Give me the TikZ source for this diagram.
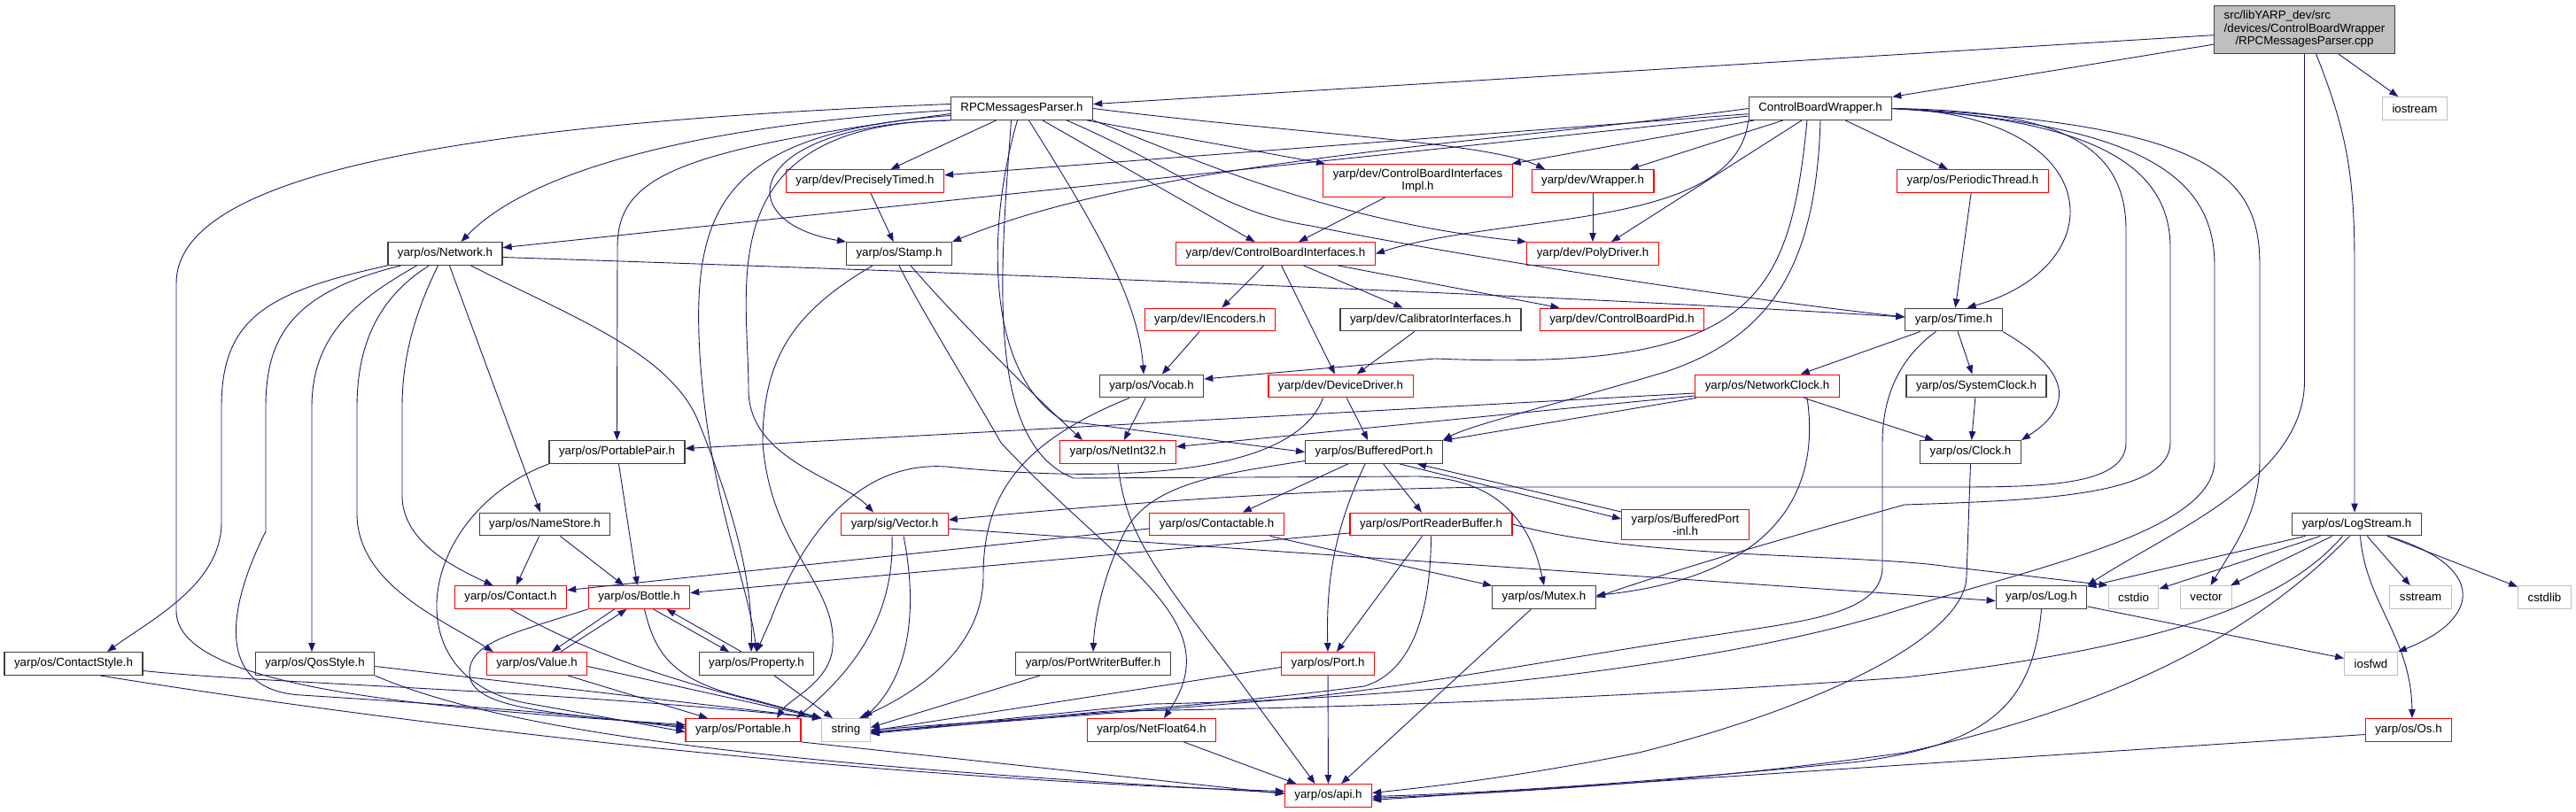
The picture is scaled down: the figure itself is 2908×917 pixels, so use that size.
\documentclass[tikz,border=0pt]{standalone}
\usepackage{fontspec}
\setmainfont{Liberation Sans}
\usetikzlibrary{arrows.meta}

\definecolor{edgeblue}{HTML}{191970}
\definecolor{boxgray}{HTML}{404040}
\definecolor{sysgray}{HTML}{BFBFBF}

\begin{document}
\begin{tikzpicture}[x=1pt,y=-1pt,
    incfile/.style={draw=boxgray,rectangle,line width=1.2pt,inner xsep=11pt,inner ysep=5pt,
      minimum height=25.7pt,align=center,font=\fontsize{13.3}{14.5}\selectfont},
    redfile/.style={incfile,draw=red},
    sysfile/.style={incfile,draw=sysgray},
    rootfile/.style={incfile,fill=sysgray},
    inc/.style={draw=edgeblue,line width=0.9pt,-{Triangle[length=10pt,width=7.5pt]}}]
\useasboundingbox (0,0) rectangle (2908,917);

% Nodes
\node[rootfile] (root) at (2601.5,33.5) {\begin{tabular}{@{}l@{}}src/libYARP\_dev/src\\/devices/ControlBoardWrapper\\\multicolumn{1}{@{}c@{}}{/RPCMessagesParser.cpp}\end{tabular}};
\node[sysfile] (iostream) at (2726,122.5) {iostream};
\node[incfile] (rpc) at (1153.5,122.5) {RPCMessagesParser.h};
\node[incfile] (cbw) at (2055,122.5) {ControlBoardWrapper.h};
\node[redfile] (precisely) at (976.5,204.5) {yarp/dev/PreciselyTimed.h};
\node[redfile] (cbiimpl) at (1600.5,204) {yarp/dev/ControlBoardInterfaces\\Impl.h};
\node[redfile] (wrapper) at (1798,204.5) {yarp/dev/Wrapper.h};
\node[redfile] (periodic) at (2227,204.5) {yarp/os/PeriodicThread.h};
\node[incfile] (network) at (502.5,286.5) {yarp/os/Network.h};
\node[incfile] (stamp) at (1015,286.5) {yarp/os/Stamp.h};
\node[redfile] (cbi) at (1440,286.5) {yarp/dev/ControlBoardInterfaces.h};
\node[redfile] (polydriver) at (1798,286.5) {yarp/dev/PolyDriver.h};
\node[redfile] (iencoders) at (1366,361) {yarp/dev/IEncoders.h};
\node[incfile] (calibrator) at (1615,361) {yarp/dev/CalibratorInterfaces.h};
\node[redfile] (cbpid) at (1831,361) {yarp/dev/ControlBoardPid.h};
\node[incfile] (time) at (2205.5,361) {yarp/os/Time.h};
\node[incfile] (vocab) at (1300,436) {yarp/os/Vocab.h};
\node[redfile] (devicedriver) at (1513.5,436) {yarp/dev/DeviceDriver.h};
\node[redfile] (netclock) at (1995,436) {yarp/os/NetworkClock.h};
\node[incfile] (sysclock) at (2231,436) {yarp/os/SystemClock.h};
\node[incfile] (portablepair) at (696.5,510.5) {yarp/os/PortablePair.h};
\node[redfile] (netint32) at (1262,510.5) {yarp/os/NetInt32.h};
\node[incfile] (bufport) at (1551,510.5) {yarp/os/BufferedPort.h};
\node[incfile] (clock) at (2224.5,510.5) {yarp/os/Clock.h};
\node[incfile] (namestore) at (615,592) {yarp/os/NameStore.h};
\node[redfile] (vector) at (1010,592) {yarp/sig/Vector.h};
\node[redfile] (contactable) at (1373.5,592) {yarp/os/Contactable.h};
\node[redfile] (readerbuf) at (1615.5,592) {yarp/os/PortReaderBuffer.h};
\node[redfile] (bufportinl) at (1902.5,592.5) {yarp/os/BufferedPort\\-inl.h};
\node[incfile] (logstream) at (2660.5,592) {yarp/os/LogStream.h};
\node[redfile] (contact) at (576.5,674.5) {yarp/os/Contact.h};
\node[redfile] (bottle) at (721.5,674.5) {yarp/os/Bottle.h};
\node[incfile] (mutex) at (1743,674.5) {yarp/os/Mutex.h};
\node[incfile] (log) at (2304.5,674.5) {yarp/os/Log.h};
\node[sysfile] (cstdio) at (2408.5,674.5) {cstdio};
\node[sysfile] (stdvector) at (2490.5,674.5) {vector};
\node[sysfile] (sstream) at (2732.5,674.5) {sstream};
\node[sysfile] (cstdlib) at (2872.5,674.5) {cstdlib};
\node[incfile] (contactstyle) at (83,749.5) {yarp/os/ContactStyle.h};
\node[incfile] (qosstyle) at (355.5,749.5) {yarp/os/QosStyle.h};
\node[redfile] (value) at (606,749.5) {yarp/os/Value.h};
\node[incfile] (property) at (854,749.5) {yarp/os/Property.h};
\node[incfile] (writerbuf) at (1234,749.5) {yarp/os/PortWriterBuffer.h};
\node[redfile] (port) at (1499,749.5) {yarp/os/Port.h};
\node[sysfile] (iosfwd) at (2676.5,749.5) {iosfwd};
\node[redfile] (portable) at (839,824.5) {yarp/os/Portable.h};
\node[sysfile] (string) at (955,824.5) {string};
\node[redfile] (netfloat64) at (1300,824.5) {yarp/os/NetFloat64.h};
\node[redfile] (os) at (2719,824.5) {yarp/os/Os.h};
\node[redfile] (api) at (1499.5,898.5) {yarp/os/api.h};

% Edges
\draw[inc] (root) -- (rpc);
\draw[inc] (root) -- (cbw);
\draw[inc] (root) -- (iostream);
\draw[inc] (root.south) -- (2601.5,430) .. controls (2601.5,540) and (2450,600) .. (log.north east);
\draw[inc] ([xshift=13pt]root.south) .. controls (2650,150) and (2658,200) .. (2658,300) -- ([xshift=-2.5pt]logstream.north);

\draw[inc] (rpc) -- (precisely);
\draw[inc] (rpc.south west) .. controls (840,140) and (820,250) .. (stamp.north west);
\draw[inc] ([yshift=-2pt]rpc.west) .. controls (800,140) and (600,190) .. ([xshift=18pt]network.north);
\draw[inc] ([yshift=-6pt]rpc.west) .. controls (760,170) and (697,200) .. (697,280) -- (portablepair.north);
\draw[inc] ([yshift=5pt]rpc.west) .. controls (500,140) and (199,200) .. (199,320) -- (199,690) .. controls (199,780) and (500,800) .. ([yshift=6pt]portable.west);
\draw[inc] ([yshift=-8pt]rpc.west) .. controls (820,150) and (780,230) .. (790,400) .. controls (800,560) and (845,660) .. (property.north);
\draw[inc] (rpc.south west) .. controls (800,140) and (845,320) .. (845,440) .. controls (845,520) and (950,540) .. ([xshift=-24pt]vector.north);
\draw[inc] (rpc) -- (cbiimpl);
\draw[inc] (rpc.east) .. controls (1450,150) and (1680,160) .. ([xshift=-54pt]wrapper.north);
\draw[inc] (rpc) -- (cbi);
\draw[inc] (rpc.south east) .. controls (1350,180) and (1500,250) .. (polydriver.north west);
\draw[inc] ([xshift=-30pt]rpc.south east) .. controls (1330,190) and (1380,240) .. (1480,255) .. controls (1600,280) and (1900,330) .. ([yshift=3pt]time.west);
\draw[inc] ([xshift=8pt]rpc.south) .. controls (1220,230) and (1285,330) .. ([xshift=-9pt]vocab.north);
\draw[inc] ([xshift=-5pt]rpc.south) .. controls (1115,250) and (1110,420) .. (1200,475) -- (bufport.west);
\draw[inc] ([xshift=-12pt]rpc.south) .. controls (1130,300) and (1110,500) .. (1212,540) -- (1600,538) .. controls (1700,540) and (1730,600) .. (mutex.north);

\draw[inc] (cbw) -- (precisely);
\draw[inc] (cbw) -- (cbiimpl);
\draw[inc] (cbw) -- (wrapper);
\draw[inc] (cbw) -- (periodic);
\draw[inc] (cbw) -- (network);
\draw[inc] (cbw.west) .. controls (1700,160) and (1300,180) .. (stamp.north east);
\draw[inc] (cbw.south west) .. controls (1960,260) and (1700,240) .. (cbi.east);
\draw[inc] (cbw) -- (polydriver);
\draw[inc] (cbw.east) .. controls (2380,130) and (2390,300) .. ([xshift=15pt]time.north);
\draw[inc] ([xshift=-15pt]cbw.south) .. controls (2020,340) and (1980,420) .. (1620,405) -- ([yshift=8pt]vocab.east);
\draw[inc] (cbw.south) .. controls (2050,300) and (2000,380) .. (1880,420) .. controls (1780,450) and (1660,480) .. (bufport.north east);
\draw[inc] (cbw.east) .. controls (2320,125) and (2400,160) .. (2400,260) -- (2400,500) .. controls (2400,550) and (2300,550) .. (2200,550) -- (1690,550) .. controls (1500,552) and (1300,565) .. ([yshift=5pt]vector.east);
\draw[inc] (cbw.east) .. controls (2350,135) and (2450,180) .. (2450,280) -- (2450,500) .. controls (2450,560) and (2300,565) .. (2150,570) .. controls (2060,595) and (1900,640) .. (mutex.east);
\draw[inc] (cbw.east) .. controls (2420,140) and (2500,200) .. (2500,300) -- (2500,520) .. controls (2500,600) and (2300,640) .. (2140,690) .. controls (1950,750) and (1600,790) .. (1300,795) -- ([yshift=-3pt]string.east);
\draw[inc] (cbw.east) .. controls (2500,140) and (2551,200) .. (2551,300) -- (2551,520) .. controls (2551,580) and (2520,620) .. ([xshift=5pt]stdvector.north);

\draw[inc] ([yshift=-4pt]network.east) .. controls (1000,305) and (1700,330) .. ([yshift=3pt]time.west);
\draw[inc] (network.south west) .. controls (300,330) and (250,360) .. (250,460) -- (250,590) .. controls (250,660) and (170,700) .. ([xshift=38pt]contactstyle.north);
\draw[inc] ([xshift=-50pt]network.south) .. controls (330,330) and (300,380) .. (300,460) -- (300,600) .. controls (250,700) and (250,780) .. (340,785) .. controls (450,792) and (650,805) .. ([yshift=2pt]portable.west);
\draw[inc] ([xshift=-32pt]network.south) .. controls (400,340) and (352,380) .. (352,460) -- ([xshift=-3.5pt]qosstyle.north);
\draw[inc] ([xshift=-18pt]network.south) .. controls (420,340) and (403,400) .. (403,460) -- (403,580) .. controls (403,660) and (500,700) .. ([xshift=8pt]value.north west);
\draw[inc] ([xshift=-8pt]network.south) .. controls (470,350) and (454,400) .. (454,460) -- (454,560) .. controls (454,610) and (510,640) .. ([xshift=-20pt]contact.north);
\draw[inc] (network) -- (namestore);
\draw[inc] ([xshift=29pt]network.south) .. controls (650,360) and (760,400) .. (790,480) .. controls (830,580) and (850,660) .. ([xshift=-6pt]property.north);

\draw[inc] (namestore) -- (contact);
\draw[inc] (namestore) -- (bottle);
\draw[inc] (portablepair) -- (bottle);
\draw[inc] (portablepair.south west) .. controls (470,580) and (440,770) .. (600,795) -- ([yshift=-2pt]portable.west);

\draw[inc] ([xshift=-30pt]stamp.south) .. controls (900,350) and (861,400) .. (861,500) .. controls (870,620) and (945,660) .. (940,730) .. controls (938,770) and (890,790) .. ([xshift=38pt]portable.north);
\draw[inc] ([xshift=13pt]stamp.south) .. controls (1080,360) and (1160,440) .. ([xshift=-40pt]netint32.north);
\draw[inc] (stamp.south) .. controls (1040,350) and (1090,430) .. (1130,500) .. controls (1260,640) and (1390,700) .. ([xshift=14pt]netfloat64.north);

\draw[inc] (precisely) -- (stamp);
\draw[inc] (cbiimpl) -- (cbi);
\draw[inc] (wrapper) -- (polydriver);
\draw[inc] (periodic) -- (time);
\draw[inc] (cbi) -- (iencoders);
\draw[inc] (cbi) -- (calibrator);
\draw[inc] (cbi) -- (cbpid);
\draw[inc] (cbi) -- (devicedriver);
\draw[inc] (iencoders) -- (vocab);
\draw[inc] (calibrator) -- (devicedriver);

\draw[inc] (time) -- (netclock);
\draw[inc] (time) -- (sysclock);
\draw[inc] (time.south east) .. controls (2340,420) and (2340,460) .. (clock.north east);
\draw[inc] ([xshift=-20pt]time.south) .. controls (2150,400) and (2125,440) .. (2125,500) -- (2125,640) .. controls (2125,690) and (2050,700) .. (1950,715) .. controls (1750,745) and (1600,775) .. (1450,790) -- ([yshift=-2pt]string.east);

\draw[inc] (vocab) -- (netint32);
\draw[inc] ([xshift=-25pt]vocab.south) .. controls (1150,500) and (1110,560) .. (1110,650) .. controls (1110,730) and (1040,780) .. ([xshift=15pt]string.north);
\draw[inc] (devicedriver) -- (bufport);
\draw[inc] ([xshift=-20pt]devicedriver.south) .. controls (1460,540) and (1250,545) .. (1068,527) .. controls (960,520) and (900,620) .. (870,700) -- (property.north);

\draw[inc] ([yshift=-8pt]netclock.west) -- ([yshift=4pt]portablepair.east);
\draw[inc] ([yshift=-11pt]netclock.west) -- ([yshift=6pt]netint32.east);
\draw[inc] (netclock) -- (bufport);
\draw[inc] (netclock) -- (clock);
\draw[inc] ([xshift=45pt]netclock.south) .. controls (2055,550) and (2010,650) .. ([yshift=2pt]mutex.east);
\draw[inc] (sysclock) -- (clock);
\draw[inc] (clock.south) -- (2220,650) .. controls (2220,720) and (2050,800) .. (1850,850) .. controls (1700,880) and (1600,890) .. ([yshift=3pt]api.east);

\draw[inc] (bufport) -- (contactable);
\draw[inc] (bufport) -- (readerbuf);
\draw[inc] ([xshift=29pt]bufport.south) -- ([yshift=6.5pt]bufportinl.west);
\draw[inc] ([yshift=14.5pt]bufportinl.west) -- ([xshift=49pt]bufport.south);
\draw[inc] ([xshift=-10pt]bufport.south) .. controls (1505,600) and (1497,660) .. (port.north);
\draw[inc] ([yshift=-10pt]bufport.west) .. controls (1380,535) and (1300,545) .. (1270,600) .. controls (1250,640) and (1236,690) .. (writerbuf.north);

\draw[inc] ([yshift=-5pt]contactable.west) -- ([yshift=8pt]contact.east);
\draw[inc] (contactable) -- (mutex);
\draw[inc] ([yshift=-10pt]readerbuf.west) -- ([yshift=5pt]bottle.east);
\draw[inc] (readerbuf) -- (port);
\draw[inc] (readerbuf.south) .. controls (1615,700) and (1590,760) .. (1540,775) .. controls (1350,800) and (1100,815) .. (string.east);
\draw[inc] (readerbuf.east) .. controls (1850,632) and (2100,625) .. (2200,640) -- (cstdio.north west);

\draw[inc] ([yshift=-5pt]vector.east) -- ([yshift=-4pt]log.west);
\draw[inc] ([xshift=-3pt]vector.south) .. controls (1010,700) and (960,760) .. ([xshift=60pt]portable.north);
\draw[inc] ([xshift=10pt]vector.south) .. controls (1035,680) and (1030,760) .. ([xshift=20pt]string.north);

\draw[inc] (contact.south) .. controls (700,760) and (850,790) .. (string.north west);
\draw[inc] ([xshift=-28pt]bottle.south) -- ([xshift=17pt]value.north);
\draw[inc] ([xshift=16pt]bottle.south) -- ([xshift=-31pt]property.north);
\draw[inc] (bottle.south west) .. controls (580,715) and (530,725) .. (530,760) .. controls (530,800) and (620,805) .. ([yshift=4pt]portable.west);
\draw[inc] ([xshift=6pt]bottle.south) .. controls (740,740) and (760,770) .. (850,790) -- (string.north west);
\draw[inc] ([xshift=27pt]value.north) -- ([xshift=-14pt]bottle.south);
\draw[inc] ([xshift=35pt]value.south) -- ([xshift=-40pt]portable.north);
\draw[inc] ([yshift=-3pt]value.east) -- (string.north west);
\draw[inc] ([xshift=-17pt]property.north) -- ([xshift=31pt]bottle.south);
\draw[inc] ([xshift=20pt]property.south) -- ([xshift=-15pt]string.north);

\draw[inc] ([yshift=-3pt]qosstyle.east) -- (string.north west);
\draw[inc] (qosstyle.south east) .. controls (600,840) and (1000,870) .. ([yshift=3pt]api.west);
\draw[inc] ([yshift=-8pt]contactstyle.east) .. controls (300,772) and (600,778) .. (string.north west);
\draw[inc] ([xshift=30pt]contactstyle.south) .. controls (500,825) and (1000,880) .. ([yshift=5pt]api.west);
\draw[inc] (portable.south east) -- ([yshift=2pt]api.west);
\draw[inc] ([xshift=-60pt]writerbuf.south) -- ([yshift=3pt]string.east);
\draw[inc] ([yshift=-4pt]port.west) -- ([yshift=-1pt]string.east);
\draw[inc] (port) -- (api);
\draw[inc] (netint32.south) .. controls (1270,600) and (1300,640) .. (1400,770) -- ([xshift=-15pt]api.north);
\draw[inc] (netfloat64) -- (api);
\draw[inc] (mutex) -- (api);

\draw[inc] (log) -- (iosfwd);
\draw[inc] (log.south) .. controls (2295,800) and (2240,840) .. (2100,860) .. controls (1900,880) and (1700,895) .. ([yshift=-1pt]api.east);
\draw[inc] (logstream) -- (log);
\draw[inc] (logstream) -- (cstdio);
\draw[inc] (logstream) -- (stdvector);
\draw[inc] (logstream) -- (sstream);
\draw[inc] (logstream) -- (cstdlib);
\draw[inc] ([xshift=35pt]logstream.south) .. controls (2810,640) and (2800,700) .. (iosfwd.north east);
\draw[inc] ([xshift=4pt]logstream.south) .. controls (2670,680) and (2722,720) .. ([xshift=4pt]os.north);
\draw[inc] ([xshift=-16pt]logstream.south) .. controls (2580,680) and (2450,730) .. (2150,765) .. controls (1800,790) and (1500,800) .. (1250,803) -- ([yshift=-4pt]string.east);
\draw[inc] ([xshift=-8pt]logstream.south) .. controls (2560,700) and (2420,790) .. (2150,850) .. controls (1900,885) and (1700,895) .. ([yshift=-3pt]api.east);
\draw[inc] ([yshift=-5pt]os.west) -- ([yshift=-5pt]api.east);
\end{tikzpicture}
\end{document}
